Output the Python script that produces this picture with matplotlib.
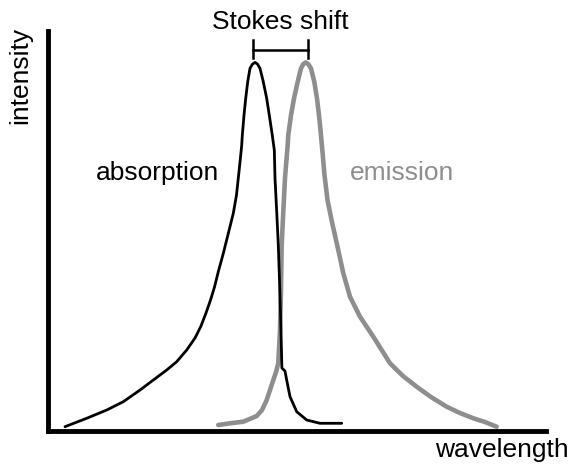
import matplotlib
matplotlib.use("Agg")
import matplotlib.pyplot as plt
import numpy as np

# спектры в условных единицах (длина волны 0..100, интенсивность 0..100)
abs_wl = [3.51, 7.86, 11.88, 15.21, 18.56, 21.22, 23.91, 25.92, 27.92, 29.59,
          30.79, 31.79, 32.70, 33.50, 34.26, 35.27, 36.27, 37.27, 37.91, 38.27,
          38.66, 38.96, 39.08, 39.42, 39.76, 40.16, 40.62, 41.12, 41.62, 42.13,
          42.63, 43.29, 43.97, 44.49, 45.09, 45.50, 45.64, 45.98, 46.30, 46.54,
          46.78, 47.02, 47.64, 47.98, 48.65, 49.99, 52.00, 54.66, 59.02]
abs_int = [1.08, 3.18, 5.25, 7.33, 10.25, 12.75, 15.25, 17.33, 20.25, 23.25,
           26.25, 29.5, 32.75, 36.0, 39.83, 44.43, 49.43, 54.43, 59.0, 63.18,
           67.75, 71.5, 74.0, 79.0, 83.18, 87.33, 90.68, 91.75, 92.18, 91.75,
           90.68, 87.33, 83.18, 79.0, 74.0, 70.25, 63.18, 54.83, 46.5, 37.75,
           27.75, 15.75, 15.0, 12.75, 8.58, 4.83, 2.75, 1.93, 1.93]

em_wl = [34.26, 36.61, 39.28, 41.97, 43.03, 43.97, 44.63, 45.30, 45.84, 46.30,
         46.64, 46.84, 46.98, 47.30, 47.64, 48.18, 48.30, 48.85, 49.45, 50.19,
         50.85, 51.31, 51.79, 52.31, 52.86, 53.52, 54.06, 54.46, 54.86, 55.13,
         55.57, 56.17, 57.07, 58.33, 59.34, 60.68, 62.69, 65.36, 67.04, 68.71,
         71.31, 74.06, 76.93, 80.08, 82.75, 85.42, 87.76, 90.11]
em_int = [1.5, 1.93, 2.33, 3.75, 5.25, 7.75, 10.25, 12.75, 14.75, 17.0,
          25.25, 35.25, 46.5, 54.83, 63.18, 71.5, 74.0, 79.0, 83.18, 87.33,
          90.68, 91.75, 92.18, 91.75, 90.68, 87.33, 83.18, 79.0, 74.0, 70.25,
          64.0, 57.75, 52.25, 45.25, 39.43, 33.58, 28.58, 23.58, 20.25, 16.93,
          13.75, 11.08, 8.5, 6.08, 4.5, 3.18, 2.25, 1.08]

GRAY = "#8e8e8e"
FONT = ["Liberation Sans", "DejaVu Sans"]
plt.rcParams["font.family"] = FONT

fig = plt.figure(figsize=(5.71, 4.71), dpi=100)
ax = fig.add_axes([0.0832, 0.0849, 0.873, 0.849])

ax.plot(em_wl, em_int, color=GRAY, lw=3.3, solid_joinstyle="round",
        solid_capstyle="round")
ax.plot(abs_wl, abs_int, color="black", lw=2.0, solid_joinstyle="round",
        solid_capstyle="round")

ax.set_xlim(0, 100)
ax.set_ylim(0, 100)
for side in ("top", "right"):
    ax.spines[side].set_visible(False)
for side in ("left", "bottom"):
    ax.spines[side].set_linewidth(3.5)
ax.set_xticks([])
ax.set_yticks([])

# скобка Stokes shift между максимумами
x1 = abs_wl[int(np.argmax(abs_int))] - 0.4
x2 = em_wl[int(np.argmax(em_int))] + 0.5
yb = 95.4
ax.plot([x1, x2], [yb, yb], color="black", lw=1.8, clip_on=False)
for xx in (x1, x2):
    ax.plot([xx, xx], [yb - 2.0, yb + 2.3], color="black", lw=1.8, clip_on=False)
ax.text((x1 + x2) / 2, 102.3, "Stokes shift", ha="center", va="center",
        fontsize=19, clip_on=False)

ax.text(22.0, 64.5, "absorption", ha="center", va="center", fontsize=19)
ax.text(71.1, 64.5, "emission", ha="center", va="center", fontsize=19, color=GRAY)

fig.text(0.035, 0.839, "intensity", rotation=90, ha="center", va="center",
         fontsize=19)
fig.text(0.879, 0.0446, "wavelength", ha="center", va="center", fontsize=19)

fig.savefig("out.png", dpi=100)
